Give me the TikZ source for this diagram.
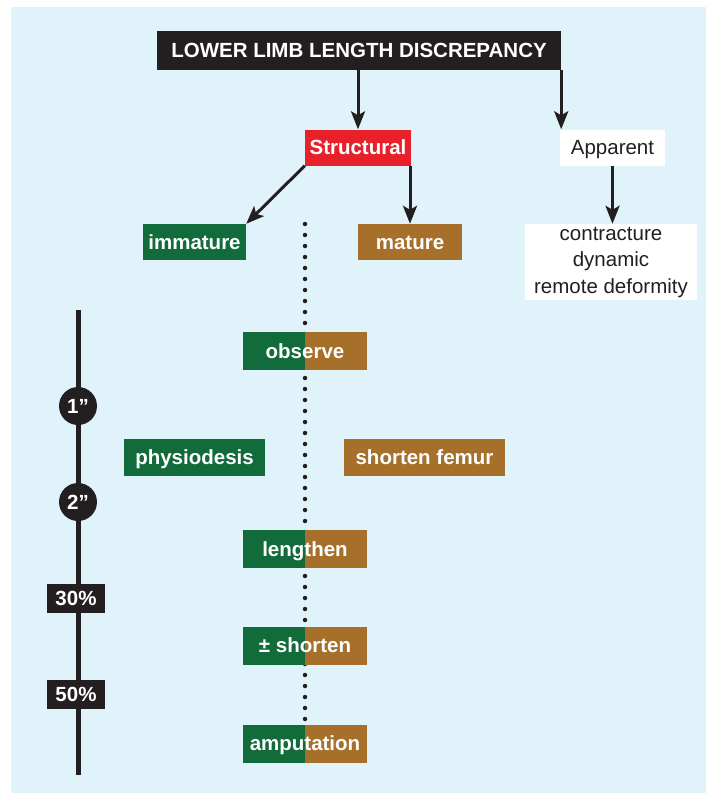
\documentclass[tikz,border=0pt]{standalone}
\usepackage{fontspec}
\setmainfont{Liberation Sans}
\usetikzlibrary{arrows.meta}
\definecolor{PaleBlue}{HTML}{E0F3FB}
\definecolor{LeafGreen}{HTML}{116B3A}
\definecolor{Ochre}{HTML}{A66F2A}
\definecolor{SignalRed}{HTML}{E8202A}
\definecolor{Ink}{HTML}{231F20}

\begin{document}
\begin{tikzpicture}[x=1pt,y=-1pt,
  box/.style={inner sep=0pt,minimum height=36pt,text height=14.8pt,text depth=0pt,
    font=\fontsize{20.5}{24}\selectfont\bfseries,text=white},
  split/.style={box,minimum width=124pt,minimum height=38pt,fill=Ochre,
    path picture={\fill[LeafGreen] (path picture bounding box.south west) rectangle (path picture bounding box.north);}},
  dot/.style={circle,fill=Ink,text=white,inner sep=0pt,minimum size=38pt,text height=14.8pt,text depth=0pt,
    font=\fontsize{20.5}{24}\selectfont\bfseries},
  arr/.style={-{Stealth[length=18pt,width=14pt,inset=4pt]},line width=3pt,draw=Ink}]
\useasboundingbox (0,0) rectangle (706,795);
\fill[PaleBlue] (11,7) rectangle (706,793);

\node[box,fill=Ink,minimum width=404pt,minimum height=39pt] (title) at (359,50.5) {LOWER LIMB LENGTH DISCREPANCY};
\node[box,fill=SignalRed,minimum width=106pt] (struct) at (358,147.5) {Structural};
\node[box,fill=white,text=Ink,font=\fontsize{20.5}{24}\selectfont,minimum width=105pt] (app) at (612.5,147.5) {Apparent};
\node[box,fill=LeafGreen,minimum width=103pt] (immature) at (194.5,242) {immature};
\node[box,fill=Ochre,minimum width=104pt] (mature) at (410,242) {mature};
\node[fill=white,text=Ink,inner sep=0pt,font=\fontsize{20.5}{26.5}\selectfont,align=center,minimum width=172pt,minimum height=76pt] (list) at (611,262) {contracture\\dynamic\\remote deformity};

\draw[arr] (struct.north |- title.south) -- (struct.north);
\draw[arr] (title.south east) -- (title.south east |- app.north);
\draw[arr] (struct.south west) -- (immature.north east);
\draw[arr] (mature.north |- struct.south) -- (mature.north);
\draw[arr] (app.south) -- (app.south |- list.north);

\coordinate (dtop) at (305,224);
\coordinate (dbot) at (305,722);
\draw[Ink,line width=4.5pt,line cap=round,dash pattern=on 0pt off 11pt] (dtop) -- (dbot);

\node[split] (observe) at (305,351) {observe};
\node[split] (lengthen) at (305,549) {lengthen};
\node[split] (shorten) at (305,645.5) {± shorten};
\node[split] (amput) at (305,743.5) {amputation};
\node[box,fill=LeafGreen,minimum width=141pt,minimum height=37pt] (physio) at (194.5,457.5) {physiodesis};
\node[box,fill=Ochre,minimum width=161pt,minimum height=37pt] (femur) at (424.5,457.5) {shorten femur};

\coordinate (stop) at (78,310);
\coordinate (sbot) at (78,775);
\draw[Ink,line width=5pt] (stop) -- (sbot);
\node[dot] (one) at (78,406) {1”};
\node[dot] (two) at (78,502) {2”};
\node[box,fill=Ink,minimum width=58pt,minimum height=29pt] (p30) at (76,598.5) {30\%};
\node[box,fill=Ink,minimum width=58pt,minimum height=29pt] (p50) at (76,694.5) {50\%};
\end{tikzpicture}
\end{document}
